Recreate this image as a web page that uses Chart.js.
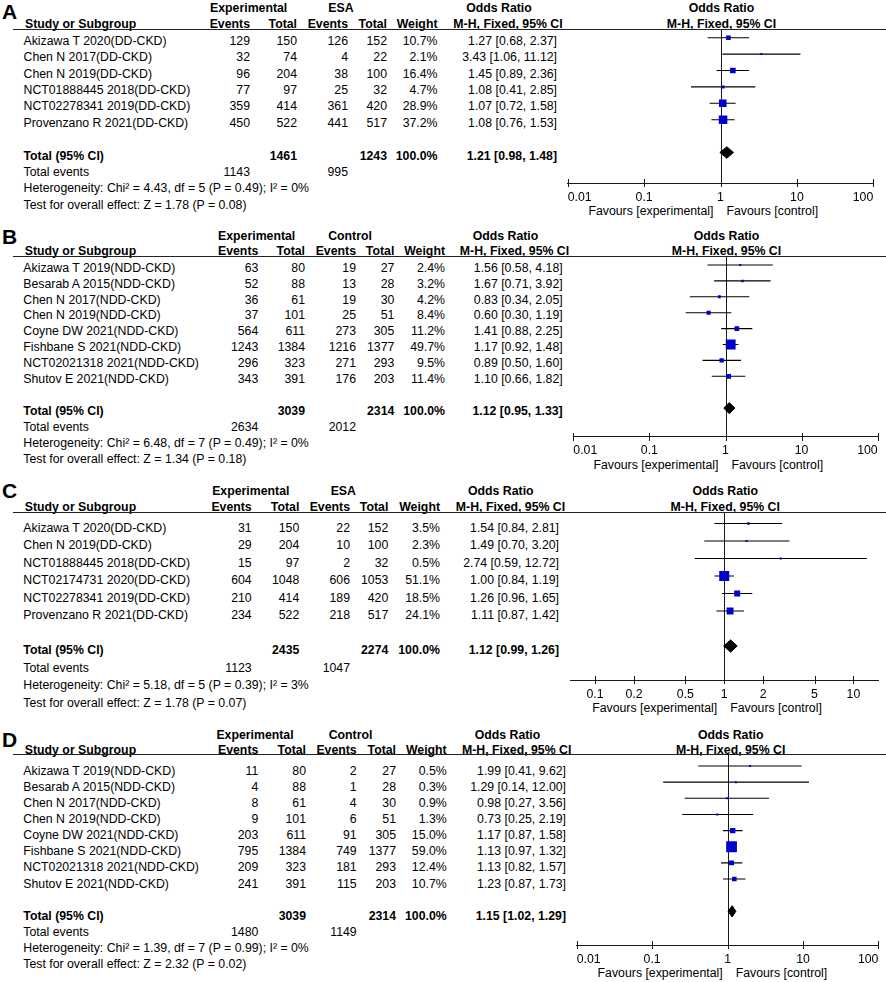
<!DOCTYPE html>
<html>
<head>
<meta charset="utf-8">
<script src="https://cdn.jsdelivr.net/npm/chart.js@4.4.1/dist/chart.umd.min.js"></script>
<style>
  html, body { margin: 0; padding: 0; background: #fff; overflow: hidden; }
  #page { position: relative; width: 886px; height: 982px; font-family: "Liberation Sans", Arial, sans-serif; font-size: 12.3px; color: #000; }
  .t { position: absolute; white-space: nowrap; line-height: 16px; height: 16px; }
  .b { font-weight: bold; }
  .hline { position: absolute; left: 13px; right: 0; height: 1px; background: #222; }
  .letter { position: absolute; left: 2px; font-weight: bold; font-size: 21px; line-height: 24px; }
  canvas { position: absolute; }
</style>
</head>
<body>
<div id="page"></div>
<script>
// ---- panel A : DD-CKD vs ESA ----
const studiesA = ['Akizawa T 2020(DD-CKD)', 'Chen N 2017(DD-CKD)', 'Chen N 2019(DD-CKD)', 'NCT01888445 2018(DD-CKD)', 'NCT02278341 2019(DD-CKD)', 'Provenzano R 2021(DD-CKD)'];
const expEventsA = [129, 32, 96, 77, 359, 450];
const expTotalA = [150, 74, 204, 97, 414, 522];
const ctlEventsA = [126, 4, 38, 25, 361, 441];
const ctlTotalA = [152, 22, 100, 32, 420, 517];
const weightA = [10.7, 2.1, 16.4, 4.7, 28.9, 37.2];
const orA = [1.27, 3.43, 1.45, 1.08, 1.07, 1.08];
const loA = [0.68, 1.06, 0.89, 0.41, 0.72, 0.76];
const hiA = [2.37, 11.12, 2.36, 2.85, 1.58, 1.53];
const pooledA = [1.21, 0.98, 1.48];
const totalsA = [1461, 1243];
const totalEventsA = [1143, 995];
const hetA = 'Chi² = 4.43, df = 5 (P = 0.49); I² = 0%';
const testA = 'Z = 1.78 (P = 0.08)';

// ---- panel B : NDD-CKD vs control ----
const studiesB = ['Akizawa T 2019(NDD-CKD)', 'Besarab A 2015(NDD-CKD)', 'Chen N 2017(NDD-CKD)', 'Chen N 2019(NDD-CKD)', 'Coyne DW 2021(NDD-CKD)', 'Fishbane S 2021(NDD-CKD)', 'NCT02021318 2021(NDD-CKD)', 'Shutov E 2021(NDD-CKD)'];
const expEventsB = [63, 52, 36, 37, 564, 1243, 296, 343];
const expTotalB = [80, 88, 61, 101, 611, 1384, 323, 391];
const ctlEventsB = [19, 13, 19, 25, 273, 1216, 271, 176];
const ctlTotalB = [27, 28, 30, 51, 305, 1377, 293, 203];
const weightB = [2.4, 3.2, 4.2, 8.4, 11.2, 49.7, 9.5, 11.4];
const orB = [1.56, 1.67, 0.83, 0.60, 1.41, 1.17, 0.89, 1.10];
const loB = [0.58, 0.71, 0.34, 0.30, 0.88, 0.92, 0.50, 0.66];
const hiB = [4.18, 3.92, 2.05, 1.19, 2.25, 1.48, 1.60, 1.82];
const pooledB = [1.12, 0.95, 1.33];
const totalsB = [3039, 2314];
const totalEventsB = [2634, 2012];
const hetB = 'Chi² = 6.48, df = 7 (P = 0.49); I² = 0%';
const testB = 'Z = 1.34 (P = 0.18)';

// ---- panel C : DD-CKD vs ESA ----
const studiesC = ['Akizawa T 2020(DD-CKD)', 'Chen N 2019(DD-CKD)', 'NCT01888445 2018(DD-CKD)', 'NCT02174731 2020(DD-CKD)', 'NCT02278341 2019(DD-CKD)', 'Provenzano R 2021(DD-CKD)'];
const expEventsC = [31, 29, 15, 604, 210, 234];
const expTotalC = [150, 204, 97, 1048, 414, 522];
const ctlEventsC = [22, 10, 2, 606, 189, 218];
const ctlTotalC = [152, 100, 32, 1053, 420, 517];
const weightC = [3.5, 2.3, 0.5, 51.1, 18.5, 24.1];
const orC = [1.54, 1.49, 2.74, 1.00, 1.26, 1.11];
const loC = [0.84, 0.70, 0.59, 0.84, 0.96, 0.87];
const hiC = [2.81, 3.20, 12.72, 1.19, 1.65, 1.42];
const pooledC = [1.12, 0.99, 1.26];
const totalsC = [2435, 2274];
const totalEventsC = [1123, 1047];
const hetC = 'Chi² = 5.18, df = 5 (P = 0.39); I² = 3%';
const testC = 'Z = 1.78 (P = 0.07)';

// ---- panel D : NDD-CKD vs control ----
const studiesD = studiesB;
const expEventsD = [11, 4, 8, 9, 203, 795, 209, 241];
const expTotalD = [80, 88, 61, 101, 611, 1384, 323, 391];
const ctlEventsD = [2, 1, 4, 6, 91, 749, 181, 115];
const ctlTotalD = [27, 28, 30, 51, 305, 1377, 293, 203];
const weightD = [0.5, 0.3, 0.9, 1.3, 15.0, 59.0, 12.4, 10.7];
const orD = [1.99, 1.29, 0.98, 0.73, 1.17, 1.13, 1.13, 1.23];
const loD = [0.41, 0.14, 0.27, 0.25, 0.87, 0.97, 0.82, 0.87];
const hiD = [9.62, 12.00, 3.56, 2.19, 1.58, 1.32, 1.57, 1.73];
const pooledD = [1.15, 1.02, 1.29];
const totalsD = [3039, 2314];
const totalEventsD = [1480, 1149];
const hetD = 'Chi² = 1.39, df = 7 (P = 0.99); I² = 0%';
const testD = 'Z = 2.32 (P = 0.02)';

// axis ticks
const ticksWide = [0.01, 0.1, 1, 10, 100];
const tickLabelsWide = ['0.01', '0.1', '1', '10', '100'];
const ticksNarrow = [0.1, 0.2, 0.5, 1, 2, 5, 10];
const tickLabelsNarrow = ['0.1', '0.2', '0.5', '1', '2', '5', '10'];

const FONT = '"Liberation Sans", Arial, sans-serif';
const BLUE = '#0000cc';
const INK = '#1a1a1a';

const panels = [
  { letter: 'A', ctl: 'ESA', names: studiesA, e1: expEventsA, n1: expTotalA, e2: ctlEventsA, n2: ctlTotalA, w: weightA, or: orA, lo: loA, hi: hiA, pooled: pooledA, totals: totalsA, events: totalEventsA, het: hetA, test: testA,
    lay: { letterY: 12, h1: 8, h2: 23.5, line: 29.5, row0: 40.7, pitch: 16.4, mOff: -3, name: 23.5, ev1: 250, tot1: 297, ev2: 348, tot2: 387, wt: 437.5, orR: 557, orH1: 499, orH2: 508, exp: 248.7, ctlX: 341,
      x0: 567.7, x1: 873.3, min: 0.01, max: 100, axis: 183, ticks: ticksWide, labels: tickLabelsWide, inner: true, fav: 211 } },
  { letter: 'B', ctl: 'Control', names: studiesB, e1: expEventsB, n1: expTotalB, e2: ctlEventsB, n2: ctlTotalB, w: weightB, or: orB, lo: loB, hi: hiB, pooled: pooledB, totals: totalsB, events: totalEventsB, het: hetB, test: testB,
    lay: { letterY: 237, h1: 236, h2: 251, line: 256.7, row0: 267.7, pitch: 15.9, mOff: -2.7, name: 23.3, ev1: 258.3, tot1: 305, ev2: 356, tot2: 394.3, wt: 445, orR: 562.7, orH1: 505.5, orH2: 514.5, exp: 256.7, ctlX: 350,
      x0: 573.3, x1: 877.7, min: 0.01, max: 100, axis: 436.7, ticks: ticksWide, labels: tickLabelsWide, inner: true, fav: 465 } },
  { letter: 'C', ctl: 'ESA', names: studiesC, e1: expEventsC, n1: expTotalC, e2: ctlEventsC, n2: ctlTotalC, w: weightC, or: orC, lo: loC, hi: hiC, pooled: pooledC, totals: totalsC, events: totalEventsC, het: hetC, test: testC,
    lay: { letterY: 491, h1: 490.7, h2: 507, line: 512.3, row0: 527.5, pitch: 17.5, mOff: -4, name: 23.3, ev1: 251.7, tot1: 299.3, ev2: 350, tot2: 388.3, wt: 440, orR: 559, orH1: 500.8, orH2: 510.5, exp: 250.8, ctlX: 343.3,
      x0: 570, x1: 878, min: 0.064, max: 15.5, axis: 680, ticks: ticksNarrow, labels: tickLabelsNarrow, inner: false, fav: 708 } },
  { letter: 'D', ctl: 'Control', names: studiesD, e1: expEventsD, n1: expTotalD, e2: ctlEventsD, n2: ctlTotalD, w: weightD, or: orD, lo: loD, hi: hiD, pooled: pooledD, totals: totalsD, events: totalEventsD, het: hetD, test: testD,
    lay: { letterY: 740, h1: 735, h2: 750, line: 754.5, row0: 770.5, pitch: 16.15, mOff: -4.5, name: 23.3, ev1: 258.3, tot1: 306, ev2: 356.7, tot2: 396, wt: 446.7, orR: 566, orH1: 507.5, orH2: 516.7, exp: 255, ctlX: 350.5,
      x0: 576.7, x1: 882.7, min: 0.01, max: 100, axis: 945, ticks: ticksWide, labels: tickLabelsWide, inner: true, fav: 972.7 } }
];

const page = document.getElementById('page');

function txt(s, x, y, align, bold) {
  const d = document.createElement('div');
  d.className = 't' + (bold ? ' b' : '');
  d.textContent = s;
  const w = 400;
  if (align === 'right') {
    d.style.left = (x - w) + 'px'; d.style.width = w + 'px'; d.style.textAlign = 'right';
  } else if (align === 'center') {
    d.style.left = (x - w / 2) + 'px'; d.style.width = w + 'px'; d.style.textAlign = 'center';
  } else {
    d.style.left = x + 'px';
  }
  d.style.top = (y - 8) + 'px';
  page.appendChild(d);
}

const f2 = v => v.toFixed(2);
const ciText = (o, l, h) => `${f2(o)} [${f2(l)}, ${f2(h)}]`;

// reference line at OR = 1 and ticks crossing the axis
const nullLine = {
  id: 'nullLine',
  beforeDatasetsDraw(chart) {
    const { ctx, chartArea } = chart;
    const x = Math.round(chart.scales.x.getPixelForValue(1)) + 0.5;
    ctx.save();
    ctx.strokeStyle = INK; ctx.lineWidth = 1;
    ctx.beginPath(); ctx.moveTo(x, chartArea.top); ctx.lineTo(x, chartArea.bottom); ctx.stroke();
    ctx.restore();
  }
};
const crossTicks = {
  id: 'crossTicks',
  afterDraw(chart) {
    const s = chart.scales.x, ctx = chart.ctx, y = Math.round(chart.chartArea.bottom);
    ctx.save();
    ctx.strokeStyle = INK; ctx.lineWidth = 1;
    s.ticks.forEach(t => {
      const x = Math.round(s.getPixelForValue(t.value)) + 0.5;
      ctx.beginPath(); ctx.moveTo(x, y - 4); ctx.lineTo(x, y + 4); ctx.stroke();
    });
    ctx.restore();
  }
};

panels.forEach(p => {
  const L = p.lay;
  const n = p.names.length;
  const one = L.x0 + (0 - Math.log10(L.min)) / (Math.log10(L.max) - Math.log10(L.min)) * (L.x1 - L.x0);

  // letter
  const lt = document.createElement('div');
  lt.className = 'letter'; lt.textContent = p.letter; lt.style.top = (L.letterY - 12) + 'px';
  page.appendChild(lt);

  // headers
  txt('Experimental', L.exp, L.h1, 'center', true);
  txt(p.ctl, L.ctlX, L.h1, 'center', true);
  txt('Odds Ratio', L.orH1, L.h1, 'center', true);
  txt('Odds Ratio', one + 1, L.h1, 'center', true);
  txt('Study or Subgroup', L.name + 1.5, L.h2, 'left', true);
  txt('Events', L.ev1, L.h2, 'right', true);
  txt('Total', L.tot1, L.h2, 'right', true);
  txt('Events', L.ev2, L.h2, 'right', true);
  txt('Total', L.tot2, L.h2, 'right', true);
  txt('Weight', L.wt, L.h2, 'right', true);
  txt('M-H, Fixed, 95% CI', L.orH2, L.h2, 'center', true);
  txt('M-H, Fixed, 95% CI', one + 1, L.h2, 'center', true);
  const hl = document.createElement('div');
  hl.className = 'hline'; hl.style.top = Math.round(L.line - 0.5) + 'px';
  page.appendChild(hl);

  // study rows
  p.names.forEach((nm, i) => {
    const y = L.row0 + i * L.pitch;
    txt(nm, L.name, y, 'left');
    txt(String(p.e1[i]), L.ev1, y, 'right');
    txt(String(p.n1[i]), L.tot1, y, 'right');
    txt(String(p.e2[i]), L.ev2, y, 'right');
    txt(String(p.n2[i]), L.tot2, y, 'right');
    txt(p.w[i].toFixed(1) + '%', L.wt, y, 'right');
    txt(ciText(p.or[i], p.lo[i], p.hi[i]), L.orR, y, 'right');
  });
  let y = L.row0 + (n + 1) * L.pitch;
  txt('Total (95% CI)', L.name, y, 'left', true);
  txt(String(p.totals[0]), L.tot1, y, 'right', true);
  txt(String(p.totals[1]), L.tot2, y, 'right', true);
  txt('100.0%', L.wt, y, 'right', true);
  txt(ciText(p.pooled[0], p.pooled[1], p.pooled[2]), L.orR, y, 'right', true);
  y += L.pitch;
  txt('Total events', L.name, y, 'left');
  txt(String(p.events[0]), L.ev1, y, 'right');
  txt(String(p.events[1]), L.ev2, y, 'right');
  y += L.pitch;
  txt('Heterogeneity: ' + p.het, L.name, y, 'left');
  y += L.pitch;
  txt('Test for overall effect: ' + p.test, L.name, y, 'left');

  txt('Favours [experimental]', one - 7, L.fav, 'right');
  txt('Favours [control]', one + 6, L.fav, 'left');

  // plot canvas
  const AXH = 40;
  const cvLeft = Math.floor(L.x0) - 30;
  const cvTop = Math.floor(L.line) - 10;
  const cvW = 886 - cvLeft;
  const cvH = Math.ceil(L.axis) - cvTop + AXH;
  const cv = document.createElement('canvas');
  cv.width = cvW; cv.height = cvH;
  cv.style.left = cvLeft + 'px'; cv.style.top = cvTop + 'px';
  cv.style.width = cvW + 'px'; cv.style.height = cvH + 'px';
  page.appendChild(cv);

  const yMin = -(L.row0 + L.mOff - L.line) / L.pitch;
  const yMax = yMin + (L.axis - L.line) / L.pitch;
  const T = n + 1;
  const dh = 0.35;

  const ciSets = p.names.map((nm, i) => ({
    type: 'line',
    data: [{ x: p.lo[i], y: i }, { x: p.hi[i], y: i }],
    borderColor: '#000', borderWidth: 1.1, pointRadius: 0, fill: false
  }));

  new Chart(cv.getContext('2d'), {
    type: 'scatter',
    data: {
      datasets: [
        {
          type: 'scatter',
          data: p.or.map((v, i) => ({ x: v, y: i })),
          pointStyle: 'rect',
          pointRadius: p.w.map(w => Math.max(2, 1.4 * Math.sqrt(w)) / Math.SQRT2),
          backgroundColor: BLUE, borderWidth: 0
        },
        {
          type: 'line',
          data: [
            { x: p.pooled[1], y: T }, { x: p.pooled[0], y: T - dh },
            { x: p.pooled[2], y: T }, { x: p.pooled[0], y: T + dh },
            { x: p.pooled[1], y: T }
          ],
          fill: 'shape', backgroundColor: '#000', borderColor: '#000', borderWidth: 1,
          pointRadius: 0, tension: 0
        },
        ...ciSets
      ]
    },
    options: {
      responsive: false,
      animation: false,
      events: [],
      layout: {
        padding: { left: L.x0 - cvLeft, right: 886 - L.x1, top: L.line - cvTop, bottom: Math.ceil(L.axis) - L.axis }
      },
      scales: {
        x: {
          type: 'logarithmic',
          min: L.min, max: L.max,
          afterBuildTicks: s => { s.ticks = L.ticks.map(v => ({ value: v })); },
          afterFit: s => { s.height = AXH; },
          grid: { display: false, drawTicks: false },
          border: { display: true, color: INK, width: 1 },
          ticks: {
            autoSkip: false, maxRotation: 0, padding: 7,
            align: L.inner ? 'inner' : 'center',
            color: '#000', font: { size: 12.3, family: FONT },
            callback: (v, i) => L.labels[i]
          }
        },
        y: { type: 'linear', display: false, reverse: true, min: yMin, max: yMax }
      },
      plugins: { legend: { display: false }, tooltip: { enabled: false } }
    },
    plugins: [nullLine, crossTicks]
  });
});
</script>
</body>
</html>
